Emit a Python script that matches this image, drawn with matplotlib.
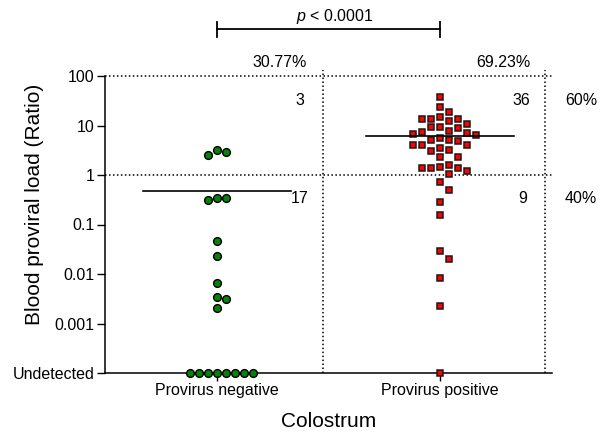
import numpy as np
import matplotlib
matplotlib.use("Agg")
import matplotlib.pyplot as plt

plt.rcParams['font.family'] = ['Liberation Sans', 'DejaVu Sans']
plt.rcParams['mathtext.fontset'] = 'custom'
plt.rcParams['mathtext.rm'] = 'Liberation Sans'
plt.rcParams['mathtext.it'] = 'Liberation Sans:italic'

# ---------------- data ----------------
groups = ["Provirus negative", "Provirus positive"]
ytick_values = [1e-4, 1e-3, 1e-2, 0.1, 1, 10, 100]
ytick_labels = ["Undetected", "0.001", "0.01", "0.1", "1", "10", "100"]

neg_detected = [3.2, 2.9, 2.5, 0.35, 0.34, 0.31, 0.046, 0.023, 0.0066,
                0.0035, 0.0031, 0.0021]
neg_undetected = 8

pos_detected = [37.1, 24.0, 18.7, 13.3, 13.7, 14.8, 12.5, 13.5, 10.7, 9.2,
                8.9, 9.5, 7.3, 6.8, 5.7, 6.4, 7.2, 7.7, 5.0, 4.1, 4.0, 3.05,
                3.5, 4.0, 4.9, 5.1, 3.2, 2.3, 2.3, 1.43, 1.40, 1.20, 1.03,
                1.36, 1.40, 1.57, 0.71, 0.50, 0.28, 0.152, 0.029, 0.020,
                0.0083, 0.0023]
pos_undetected = 1

p_text = r"$\it{p}$ < 0.0001"
xlabel = "Colostrum"
ylabel = "Blood proviral load (Ratio)"
undetected_level = 1e-4
threshold = 1.0

# ---------------- figure ----------------
W, H = 611, 432
fig = plt.figure(figsize=(W / 100, H / 100), dpi=100)
ax = fig.add_axes([105 / W, (H - 373) / H, 447 / W, 297 / H])
ax.set_yscale('log')
ax.set_xlim(0.5, 2.5)
ax.set_ylim(1e-4, 100)

for s in ['top', 'right']:
    ax.spines[s].set_visible(False)
for s in ['left', 'bottom']:
    ax.spines[s].set_linewidth(1.1)

ax.set_yticks(ytick_values)
ax.set_yticklabels(ytick_labels)
ax.yaxis.set_minor_locator(matplotlib.ticker.NullLocator())
ax.set_xticks([1, 2])
ax.set_xticklabels(groups)
ax.tick_params(axis='both', length=6, width=1.0, labelsize=11.5, color='black')
ax.tick_params(axis='y', pad=1.5)
ax.tick_params(axis='x', pad=1.5)

# quadrant dotted lines
dot = dict(color='black', lw=1.1, ls=(0, (1, 1.6)), clip_on=False, zorder=1)
ax.plot([0.5, 2.5], [100, 100], **dot)
ax.plot([0.5, 2.5], [threshold, threshold], **dot)
for xq in [1.474, 2.47]:
    ax.plot([xq, xq], [1e-4, 132], **dot)


def swarm(center, values, d=9.0, thr=8.5):
    vals = np.asarray(values, float)
    disp = ax.transData.transform(np.column_stack([np.full(len(vals), center), vals]))
    cx = disp[0, 0]
    ys = disp[:, 1]
    order = np.argsort(-ys, kind='stable')
    xs = np.zeros(len(vals))
    placed = []
    cand = [0]
    for k in range(1, 20):
        cand += [k, -k]
    for i in order:
        for k in cand:
            x = cx + k * d
            ok = all((x - px) ** 2 + (ys[i] - py) ** 2 >= thr ** 2 for px, py in placed)
            if ok:
                break
        placed.append((x, ys[i]))
        xs[i] = x
    data = ax.transData.inverted().transform(np.column_stack([xs, ys]))
    return data[:, 0], vals


neg_all = list(neg_detected) + [undetected_level] * neg_undetected
pos_all = list(pos_detected) + [undetected_level] * pos_undetected

nx, ny = swarm(1, neg_all)
px_, py_ = swarm(2, pos_all)

ax.plot(nx, ny, 'o', ms=5.6, mfc='#078207', mec='black', mew=1.0,
        ls='none', clip_on=False, zorder=3)
ax.plot(px_, py_, 's', ms=5.0, mfc='#ff0000', mec='#1a1a1a', mew=1.1,
        ls='none', clip_on=False, zorder=3)

# mean lines
neg_mean = np.mean(list(neg_detected) + [0] * neg_undetected)
pos_mean = np.mean(list(pos_detected) + [0] * pos_undetected)
for g, m in [(1, neg_mean), (2, pos_mean)]:
    ax.plot([g - 0.33, g + 0.33], [m, m], color='black', lw=1.2, zorder=4)

# counts and percentages
n_neg = len(neg_all)
n_pos = len(pos_all)
n_tot = n_neg + n_pos
neg_hi = sum(v > threshold for v in neg_all)
neg_lo = n_neg - neg_hi
pos_hi = sum(v > threshold for v in pos_all)
pos_lo = n_pos - pos_hi

fs = 11.5
T = ax.transAxes
ax.text(0.452, 1.047, f"{100 * n_neg / n_tot:.2f}%", transform=T, ha='right', va='center', fontsize=fs)
ax.text(0.951, 1.047, f"{100 * n_pos / n_tot:.2f}%", transform=T, ha='right', va='center', fontsize=fs)
ax.text(0.447, 0.919, f"{neg_hi}", transform=T, ha='right', va='center', fontsize=fs)
ax.text(0.456, 0.586, f"{neg_lo}", transform=T, ha='right', va='center', fontsize=fs)
ax.text(0.952, 0.919, f"{pos_hi}", transform=T, ha='right', va='center', fontsize=fs)
ax.text(0.944, 0.589, f"{pos_lo}", transform=T, ha='right', va='center', fontsize=fs)
ax.text(1.029, 0.919, f"{100 * (neg_hi + pos_hi) / n_tot:.0f}%", transform=T, ha='left', va='center', fontsize=fs)
ax.text(1.029, 0.589, f"{100 * (neg_lo + pos_lo) / n_tot:.0f}%", transform=T, ha='left', va='center', fontsize=fs)

# significance bracket
bt = matplotlib.transforms.blended_transform_factory(ax.transData, ax.transAxes)
ax.plot([1, 2], [1.157, 1.157], color='black', lw=1.3, transform=bt, clip_on=False)
for g in [1, 2]:
    ax.plot([g, g], [1.131, 1.182], color='black', lw=1.3, transform=bt, clip_on=False)
ax.text(0.515, 1.199, p_text, transform=T, ha='center', va='center', fontsize=fs)

# axis labels
fig.text(35 / W, 1 - 204 / H, ylabel, rotation=90, ha='center', va='center', fontsize=15)
fig.text(329 / W, 1 - 421.7 / H, xlabel, ha='center', va='center', fontsize=15)

fig.savefig("out.png", dpi=100)
